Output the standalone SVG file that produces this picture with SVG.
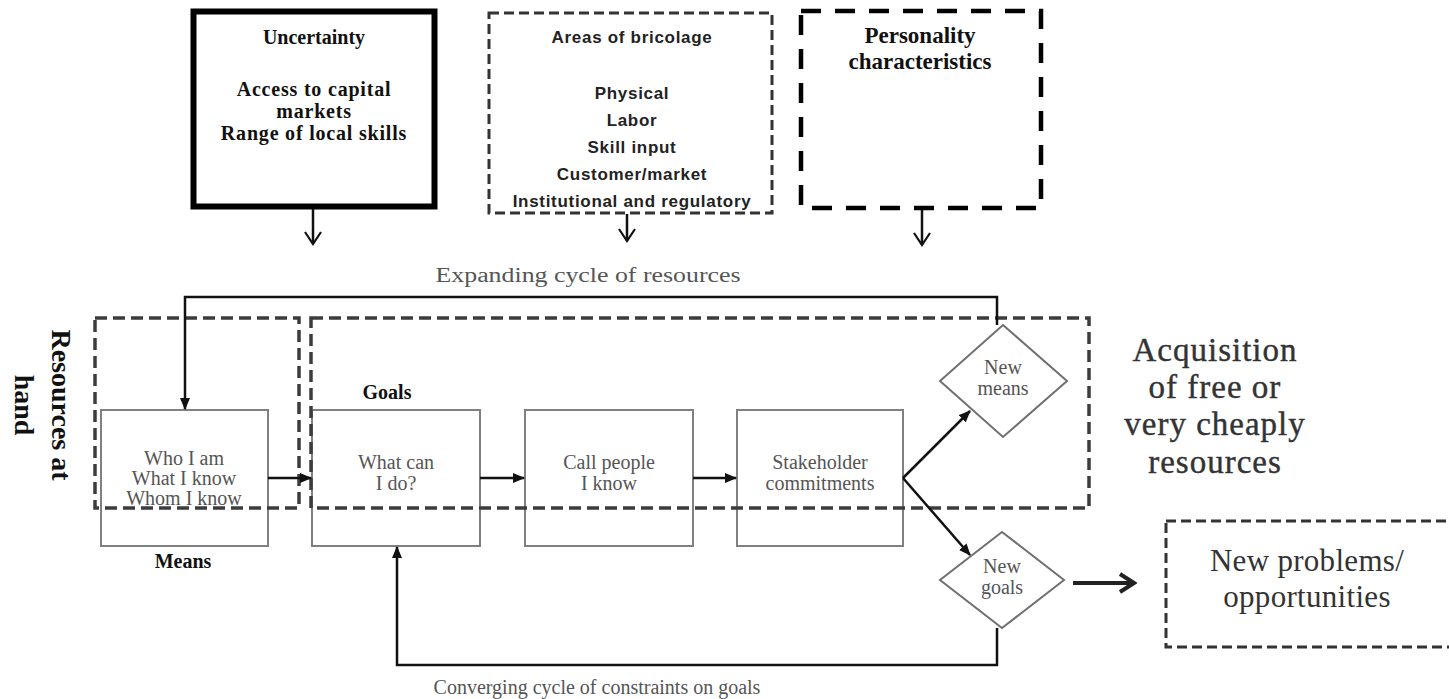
<svg xmlns="http://www.w3.org/2000/svg" width="1449" height="699" viewBox="0 0 1449 699">
<defs>
<style>
.sb{font-family:"Liberation Serif","Times New Roman",serif;font-weight:bold;fill:#111;text-anchor:middle}
.ss{font-family:"Liberation Sans",Arial,sans-serif;font-weight:bold;fill:#222;text-anchor:middle;font-size:17px;letter-spacing:0.7px}
.sr{font-family:"Liberation Serif","Times New Roman",serif;fill:#555;text-anchor:middle;font-size:20px}
.sg{font-family:"Liberation Serif","Times New Roman",serif;fill:#333;text-anchor:middle}
.box{fill:#fff;stroke:#808080;stroke-width:2}
.dia{fill:#fff;stroke:#707070;stroke-width:2}
.dash{fill:none;stroke:#3c3c3c;stroke-width:3.5;stroke-dasharray:12 6}
.ln{fill:none;stroke:#111;stroke-width:2.5}
</style>
<marker id="tri" markerUnits="userSpaceOnUse" markerWidth="12" markerHeight="10" refX="11" refY="5" orient="auto">
<path d="M0,0 L12,5 L0,10 z" fill="#111"/>
</marker>
<marker id="chev" markerUnits="userSpaceOnUse" markerWidth="16" markerHeight="20" refX="14" refY="10" orient="auto">
<path d="M2,2 L14,10 L2,18" fill="none" stroke="#111" stroke-width="2.2"/>
</marker>
<marker id="chev2" markerUnits="userSpaceOnUse" markerWidth="20" markerHeight="24" refX="17" refY="12" orient="auto">
<path d="M3,3 L17,12 L3,21" fill="none" stroke="#222" stroke-width="4"/>
</marker>
</defs>
<rect width="1449" height="699" fill="#fff"/>

<g id="uncertainty">
<rect x="193.5" y="11.5" width="241" height="195" fill="#fff" stroke="#000" stroke-width="6"/>
<text class="sb" x="314" y="44" font-size="20">Uncertainty</text>
<text class="sb" x="314" y="96" font-size="20" letter-spacing="0.8">Access to capital</text>
<text class="sb" x="314" y="118" font-size="20" letter-spacing="0.8">markets</text>
<text class="sb" x="314" y="140" font-size="20" letter-spacing="0.8">Range of local skills</text>
</g>

<g id="bricolage">
<rect x="489" y="13" width="283" height="200" fill="none" stroke="#333" stroke-width="3" stroke-dasharray="10 5"/>
<text class="ss" x="632" y="43">Areas of bricolage</text>
<text class="ss" x="632" y="99">Physical</text>
<text class="ss" x="632" y="126">Labor</text>
<text class="ss" x="632" y="153">Skill input</text>
<text class="ss" x="632" y="180">Customer/market</text>
<text class="ss" x="632" y="207">Institutional and regulatory</text>
</g>

<g id="personality">
<rect x="801" y="11" width="240" height="197" fill="none" stroke="#000" stroke-width="4.5" stroke-dasharray="20 14"/>
<text class="sb" x="920" y="43" font-size="23">Personality</text>
<text class="sb" x="920" y="69" font-size="23">characteristics</text>
</g>

<g id="resources-label">
<text class="sb" font-size="28" transform="translate(52,405) rotate(90)" x="0" y="0">Resources at</text>
<text class="sb" font-size="28" transform="translate(15,405) rotate(90)" x="0" y="0">hand</text>
</g>

<g id="means">
<rect class="box" x="101" y="410" width="167" height="136"/>
<text class="sr" x="184" y="465">Who I am</text>
<text class="sr" x="184" y="485">What I know</text>
<text class="sr" x="184" y="505">Whom I know</text>
<text class="sb" x="183" y="568" font-size="20" fill="#333">Means</text>
</g>

<g id="goals">
<rect class="box" x="312" y="410" width="168" height="136"/>
<text class="sb" x="387" y="399" font-size="20" fill="#333">Goals</text>
<text class="sr" x="396" y="469">What can</text>
<text class="sr" x="396" y="490">I do?</text>
</g>

<g id="call">
<rect class="box" x="525" y="410" width="168" height="136"/>
<text class="sr" x="609" y="469">Call people</text>
<text class="sr" x="609" y="490">I know</text>
</g>

<g id="stakeholder">
<rect class="box" x="737" y="410" width="166" height="136"/>
<text class="sr" x="820" y="469">Stakeholder</text>
<text class="sr" x="820" y="490">commitments</text>
</g>

<g id="resources-at-hand">
<rect class="dash" x="95" y="318" width="204" height="190"/>
</g>
<g id="cycle-area">
<rect class="dash" x="311" y="318" width="778" height="190"/>
</g>

<g id="new-means">
<polygon class="dia" points="1003,325 1067,381 1003,437 940,381"/>
<text class="sr" x="1003" y="374" font-size="14">New</text>
<text class="sr" x="1003" y="395" font-size="14">means</text>
</g>

<g id="new-goals">
<polygon class="dia" points="1002,532 1064,580 1002,628 940,580"/>
<text class="sr" x="1002" y="573" font-size="14">New</text>
<text class="sr" x="1002" y="594" font-size="14">goals</text>
</g>

<g id="acquisition">
<text class="sg" x="1215" y="361" font-size="33" letter-spacing="1" stroke="#333" stroke-width="0.4">Acquisition</text>
<text class="sg" x="1215" y="398" font-size="33" letter-spacing="1" stroke="#333" stroke-width="0.4">of free or</text>
<text class="sg" x="1215" y="435" font-size="33" letter-spacing="1" stroke="#333" stroke-width="0.4">very cheaply</text>
<text class="sg" x="1215" y="473" font-size="33" letter-spacing="1" stroke="#333" stroke-width="0.4">resources</text>
</g>

<g id="new-problems">
<rect x="1166" y="521" width="300" height="126" fill="none" stroke="#333" stroke-width="3" stroke-dasharray="10 5"/>
<text class="sg" x="1307" y="571" font-size="31" fill="#555" letter-spacing="0.3">New problems/</text>
<text class="sg" x="1307" y="607" font-size="31" fill="#555" letter-spacing="0.3">opportunities</text>
</g>

<g id="connectors">
<line class="ln" x1="313" y1="209" x2="313" y2="244" marker-end="url(#chev)"/>
<line class="ln" x1="627" y1="214" x2="627" y2="241" marker-end="url(#chev)"/>
<line class="ln" x1="922" y1="210" x2="922" y2="245" marker-end="url(#chev)"/>
<path class="ln" d="M997,325 V297 H185 V409" marker-end="url(#tri)"/>
<path class="ln" d="M997,628 V665 H397 V547" marker-end="url(#tri)"/>
<line class="ln" x1="268" y1="478" x2="311" y2="478" marker-end="url(#tri)"/>
<line class="ln" x1="480" y1="478" x2="524" y2="478" marker-end="url(#tri)"/>
<line class="ln" x1="693" y1="478" x2="736" y2="478" marker-end="url(#tri)"/>
<line class="ln" x1="903" y1="478" x2="970" y2="411" marker-end="url(#tri)"/>
<line class="ln" x1="903" y1="478" x2="970" y2="555" marker-end="url(#tri)"/>
<line x1="1073" y1="583" x2="1134" y2="583" stroke="#222" stroke-width="4" marker-end="url(#chev2)"/>
<text class="sr" x="588" y="282" font-size="22" fill="#444" textLength="305" lengthAdjust="spacingAndGlyphs">Expanding cycle of resources</text>
<text class="sr" x="597" y="694" font-size="20" fill="#333">Converging cycle of constraints on goals</text>
</g>
</svg>
